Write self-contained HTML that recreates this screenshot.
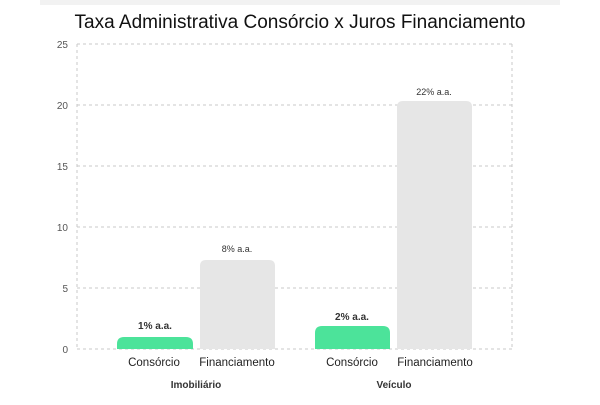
<!DOCTYPE html>
<html><head><meta charset="utf-8"><style>
body{margin:0;background:#fff;}
svg text{font-family:"Liberation Sans",sans-serif;}
</style></head><body>
<svg width="600" height="400" viewBox="0 0 600 400" xmlns="http://www.w3.org/2000/svg">
<rect width="600" height="400" fill="#fff"/>
<rect x="40" y="0" width="520" height="5" fill="#f2f2f2"/>
<text x="300" y="28" text-anchor="middle" font-size="19" fill="#111">Taxa Administrativa Consórcio x Juros Financiamento</text>
<g stroke="#c8c8c8" stroke-width="1" stroke-dasharray="3,3" fill="none">
<line x1="77" y1="44" x2="512" y2="44"/>
<line x1="77" y1="105" x2="512" y2="105"/>
<line x1="77" y1="166" x2="512" y2="166"/>
<line x1="77" y1="227" x2="512" y2="227"/>
<line x1="77" y1="288" x2="512" y2="288"/>
<line x1="77" y1="349" x2="512" y2="349"/>
<line x1="77" y1="44" x2="77" y2="349"/>
<line x1="512" y1="44" x2="512" y2="349"/>
</g>
<g font-size="10" fill="#555" text-anchor="end">
<text x="68" y="48">25</text><text x="68" y="109">20</text><text x="68" y="170">15</text>
<text x="68" y="231">10</text><text x="68" y="292">5</text><text x="68" y="353">0</text>
</g>
<path d="M117,349 V344 Q117,337 124,337 H186 Q193,337 193,344 V349 Z" fill="#4ce39a"/>
<path d="M200,349 V266 Q200,260 206,260 H269 Q275,260 275,266 V349 Z" fill="#e6e6e6"/>
<path d="M315,349 V333 Q315,326 322,326 H383 Q390,326 390,333 V349 Z" fill="#4ce39a"/>
<path d="M397,349 V107 Q397,101 403,101 H466 Q472,101 472,107 V349 Z" fill="#e6e6e6"/>
<g font-size="10" font-weight="bold" fill="#333" text-anchor="middle">
<text x="155" y="329">1% a.a.</text>
<text x="237" y="252" font-size="9" font-weight="normal">8% a.a.</text>
<text x="352" y="320">2% a.a.</text>
<text x="434" y="95" font-size="9" font-weight="normal">22% a.a.</text>
</g>
<g font-size="11.5" fill="#222" text-anchor="middle">
<text x="154" y="366">Consórcio</text><text x="237" y="366">Financiamento</text>
<text x="352" y="366">Consórcio</text><text x="435" y="366">Financiamento</text>
</g>
<g font-size="10" font-weight="bold" fill="#333" text-anchor="middle">
<text x="196" y="388">Imobiliário</text><text x="394" y="388">Veículo</text>
</g>
</svg>
</body></html>
